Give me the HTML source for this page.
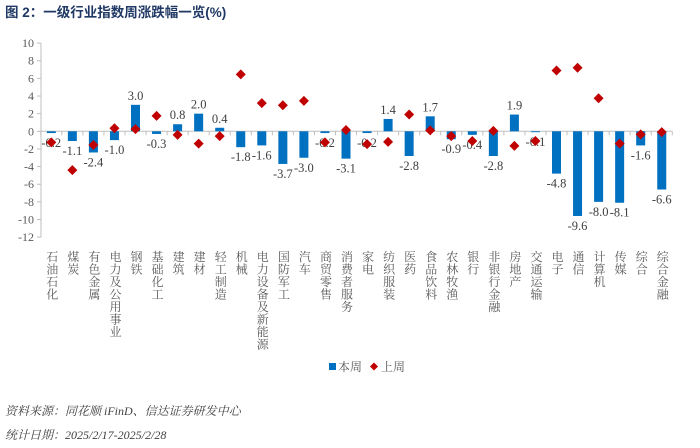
<!DOCTYPE html>
<html><head><meta charset="utf-8">
<style>
body{margin:0;background:#fff;width:700px;height:448px;overflow:hidden;font-family:"Liberation Serif","Noto Serif CJK SC",serif;}
svg{display:block}
</style></head>
<body>
<svg id="chart" width="700" height="448" xmlns="http://www.w3.org/2000/svg">
<text x="5" y="17" font-size="13.5" font-weight="bold" fill="#1f3864" font-family="'Liberation Sans','Noto Sans CJK SC',sans-serif">图 2：一级行业指数周涨跌幅一览(%)</text>
<g id="axes"></g><g id="bars"></g><g id="dots"></g><g id="cats"></g>
<g>
<rect x="329" y="363" width="7" height="7" fill="#0070c0"/>
<text x="338" y="371" font-size="12" fill="#595959">本周</text>
<path d="M374 362.5 L378 366.5 L374 370.5 L370 366.5Z" fill="#c00000"/>
<text x="381" y="371" font-size="12" fill="#595959">上周</text>
</g>
<text x="5" y="415" font-size="12" font-style="italic" fill="#404040">资料来源：同花顺 iFinD、信达证券研发中心</text>
<text x="5" y="439" font-size="12" font-style="italic" fill="#404040">统计日期：2025/2/17-2025/2/28</text>
</svg>
<script>
const categories=["石油石化","煤炭","有色金属","电力及公用事业","钢铁","基础化工","建筑","建材","轻工制造","机械","电力设备及新能源","国防军工","汽车","商贸零售","消费者服务","家电","纺织服装","医药","食品饮料","农林牧渔","银行","非银行金融","房地产","交通运输","电子","通信","计算机","传媒","综合","综合金融"];
const thisWeek=[-0.2,-1.1,-2.4,-1.0,3.0,-0.3,0.8,2.0,0.4,-1.8,-1.6,-3.7,-3.0,-0.2,-3.1,-0.2,1.4,-2.8,1.7,-0.9,-0.4,-2.8,1.9,-0.1,-4.8,-9.6,-8.0,-8.1,-1.6,-6.6];
const lastWeek=[-1.25,-4.4,-1.55,0.35,0.25,1.75,-0.4,-1.4,-0.55,6.45,3.2,2.95,3.45,-1.25,0.15,-1.45,-1.2,1.9,0.1,-0.55,-1.1,0.05,-1.65,-1.1,6.9,7.2,3.75,-1.4,-0.35,-0.1];
const yTicks=[10,8,6,4,2,0,-2,-4,-6,-8,-10,-12];
const NS="http://www.w3.org/2000/svg";
const y=v=>131.3-v*8.82;
const x=i=>51.3+i*21.05;
function mk(t,a,p){const e=document.createElementNS(NS,t);for(const k in a)e.setAttribute(k,a[k]);p.appendChild(e);return e;}
const ax=document.getElementById('axes'),bars=document.getElementById('bars'),dots=document.getElementById('dots'),cats=document.getElementById('cats');
const yl=mk('line',{x1:41,x2:41,y1:y(10),y2:y(-12),stroke:'#bfbfbf'},ax);


yTicks.forEach(t=>{
 mk('line',{x1:37,x2:41,y1:y(t),y2:y(t),stroke:'#bfbfbf'},ax);
 const tx=mk('text',{x:34,y:y(t)+4,'font-size':12,'text-anchor':'end',fill:'#595959'},ax);
 tx.textContent=t;
 
 
});
const xl=mk('line',{x1:41,x2:x(categories.length-1)+10.5,y1:y(0),y2:y(0),stroke:'#bfbfbf'},ax);


for(let i=0;i<=categories.length;i++){mk('line',{x1:x(i)-10.5,x2:x(i)-10.5,y1:y(0),y2:y(0)+4,stroke:'#bfbfbf'},ax);}
categories.forEach((c,i)=>{
 const v=thisWeek[i],cx=x(i);
 const r=mk('rect',{x:cx-4.5,width:9,y:Math.min(y(v),y(0)),height:Math.abs(y(v)-y(0)),fill:'#0070c0'},bars);
 
 
 const lb=mk('text',{x:cx,y:v>=0?y(v)-5:y(v)+14,'font-size':12.5,'text-anchor':'middle',fill:'#404040'},bars);
 lb.textContent=v.toFixed(1);
 
 
 const d=lastWeek[i],dy=y(d);
 const p=mk('path',{d:`M${cx} ${dy-5}L${cx+5} ${dy}L${cx} ${dy+5}L${cx-5} ${dy}Z`,fill:'#c00000'},dots);
 
 
 const t=mk('text',{x:cx+1,'font-size':12,'text-anchor':'middle',fill:'#595959'},cats);
 
 
 [...c].forEach((ch,k)=>{const s=mk('tspan',{x:cx+1,y:261+k*12.5},t);s.textContent=ch;});
});
</script>
</body></html>
